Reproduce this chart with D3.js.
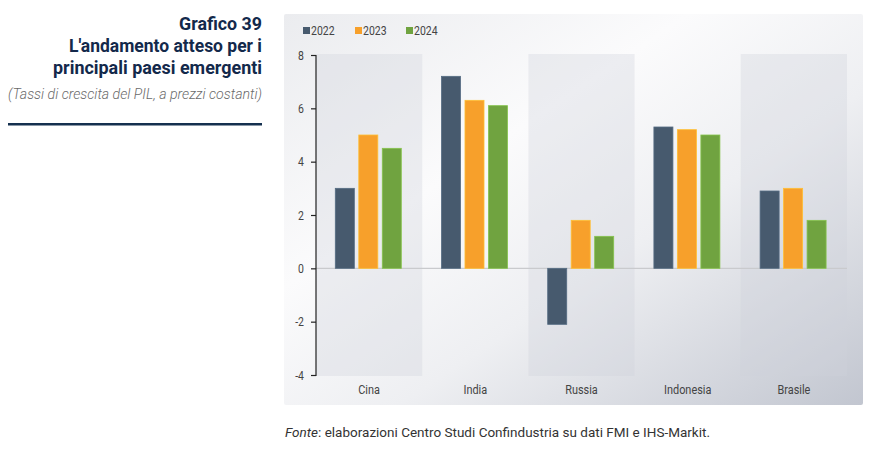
<!DOCTYPE html>
<html><head><meta charset="utf-8">
<script src="https://cdn.jsdelivr.net/npm/d3@7/dist/d3.min.js"></script>
<style>
body{margin:0;background:#fff;}
svg{display:block;}
text{font-family:"Roboto",sans-serif;}
</style></head>
<body><svg id="chart" width="874" height="451"></svg>
<script>
const categories = ["Cina","India","Russia","Indonesia","Brasile"];
const seriesNames = ["2022","2023","2024"];
const values2022 = [3.0, 7.2, -2.1, 5.3, 2.9];
const values2023 = [5.0, 6.3, 1.8, 5.2, 3.0];
const values2024 = [4.5, 6.1, 1.2, 5.0, 1.8];
const yTicks = [-4,-2,0,2,4,6,8];
const colors = ["#475a6e","#f7a02b","#70a340"];
const titleLines = ["Grafico 39","L'andamento atteso per i","principali paesi emergenti"];
const subtitle = "(Tassi di crescita del PIL, a prezzi costanti)";

const seriesValues = [values2022, values2023, values2024];
const data = categories.map((c,i)=>({cat:c, vals:seriesNames.map((s,j)=>({s, v:seriesValues[j][i], j}))}));
const SX = 0.84;

const svg = d3.select("#chart");
const defs = svg.append("defs");
const grad = defs.append("linearGradient").attr("id","bg").attr("x1","0").attr("y1","0").attr("x2","1").attr("y2","1");
grad.append("stop").attr("offset","0%").attr("stop-color","#ebecef");
grad.append("stop").attr("offset","35%").attr("stop-color","#fbfbfc");
grad.append("stop").attr("offset","60%").attr("stop-color","#eeeff2");
grad.append("stop").attr("offset","100%").attr("stop-color","#c2c6d0");

// Left titles
const tl = svg.append("g");
const titleBase = [30, 52, 74];
const titleWidths = [83, 193, 209];
titleLines.forEach((t,i)=>{
  tl.append("text").attr("x",262).attr("y",titleBase[i]).attr("text-anchor","end")
    .attr("font-size",19).attr("font-weight",700).attr("fill","#13294b")
    .attr("textLength",titleWidths[i]).attr("lengthAdjust","spacingAndGlyphs")
    .text(t);
});
tl.append("text").attr("x",262).attr("y",99).attr("text-anchor","end")
  .attr("font-size",14).attr("font-style","italic").attr("font-weight",300).attr("fill","#6a6a6a")
  .attr("textLength",254).attr("lengthAdjust","spacingAndGlyphs")
  .text(subtitle);
tl.append("rect").attr("x",8).attr("y",123).attr("width",254).attr("height",2.5).attr("fill","#15304f");

// Panel
svg.append("rect").attr("x",284).attr("y",14).attr("width",579).attr("height",391).attr("rx",2).attr("fill","url(#bg)");

const x = d3.scaleBand().domain(categories).range([316,847]).padding(0);
const y = d3.scaleLinear().domain([-4,8]).range([375,55]);
const xi = d3.scaleBand().domain(seriesNames).range([19.3,85.3]).paddingInner(0.19).paddingOuter(0);

// Shaded bands
svg.append("g").selectAll("rect").data(categories.filter((d,i)=>i%2===0)).join("rect")
  .attr("x",d=>x(d)).attr("y",y(8)-1).attr("width",x.bandwidth()).attr("height",y(-4)-y(8)+2)
  .attr("fill","#cdd0da").attr("fill-opacity",0.33);

// zero line
svg.append("line").attr("x1",316).attr("x2",847).attr("y1",y(0)).attr("y2",y(0))
  .attr("stroke","#c9cacd").attr("stroke-width",1.2);

// Bars
const groups = svg.append("g").selectAll("g").data(data).join("g").attr("transform",d=>`translate(${x(d.cat)},0)`);
groups.selectAll("rect").data(d=>d.vals).join("rect")
  .attr("x",d=>xi(d.s)).attr("width",xi.bandwidth())
  .attr("y",d=>y(Math.max(0,d.v))).attr("height",d=>Math.abs(y(d.v)-y(0)))
  .attr("fill",d=>colors[d.j]).attr("stroke",d=>d3.color(colors[d.j]).brighter(0.5)).attr("stroke-width",0.8);

// Y axis
const yAxis = svg.append("g").attr("transform","translate(316,0)")
  .call(d3.axisLeft(y).tickValues(yTicks).tickSize(5).tickPadding(7).tickFormat(d=>String(d)));
yAxis.select(".domain").attr("stroke","#222").attr("stroke-width",1.2).attr("d","M-5,55.5H0V375.5H-5");
yAxis.selectAll(".tick line").attr("stroke","#222").attr("stroke-width",1.2);
yAxis.selectAll(".tick text").attr("font-size",12.5).attr("fill","#444")
  .attr("x",-12/SX).attr("transform",`scale(${SX},1)`);

// X labels
const xAxis = svg.append("g").attr("transform","translate(0,375)")
  .call(d3.axisBottom(x).tickSize(0).tickPadding(10));
xAxis.select(".domain").remove();
xAxis.selectAll(".tick text").attr("font-size",13).attr("fill","#444").attr("transform",`scale(${SX},1)`);

// Legend
const legX = [303, 355, 406];
const leg = svg.append("g").selectAll("g").data(seriesNames).join("g").attr("transform",(d,i)=>`translate(${legX[i]},27)`);
leg.append("rect").attr("width",7).attr("height",7).attr("fill",(d,i)=>colors[i]);
leg.append("text").attr("x",8/SX).attr("y",7.8).attr("font-size",12.5).attr("fill","#444")
  .attr("transform",`scale(${SX},1)`).text(d=>d);

// Source
const src = svg.append("text").attr("x",285).attr("y",437).attr("font-size",13.3).attr("fill","#333")
  .attr("textLength",425).attr("lengthAdjust","spacingAndGlyphs");
src.append("tspan").attr("font-style","italic").text("Fonte");
src.append("tspan").text(": elaborazioni Centro Studi Confindustria su dati FMI e IHS-Markit.");
</script></body></html>
